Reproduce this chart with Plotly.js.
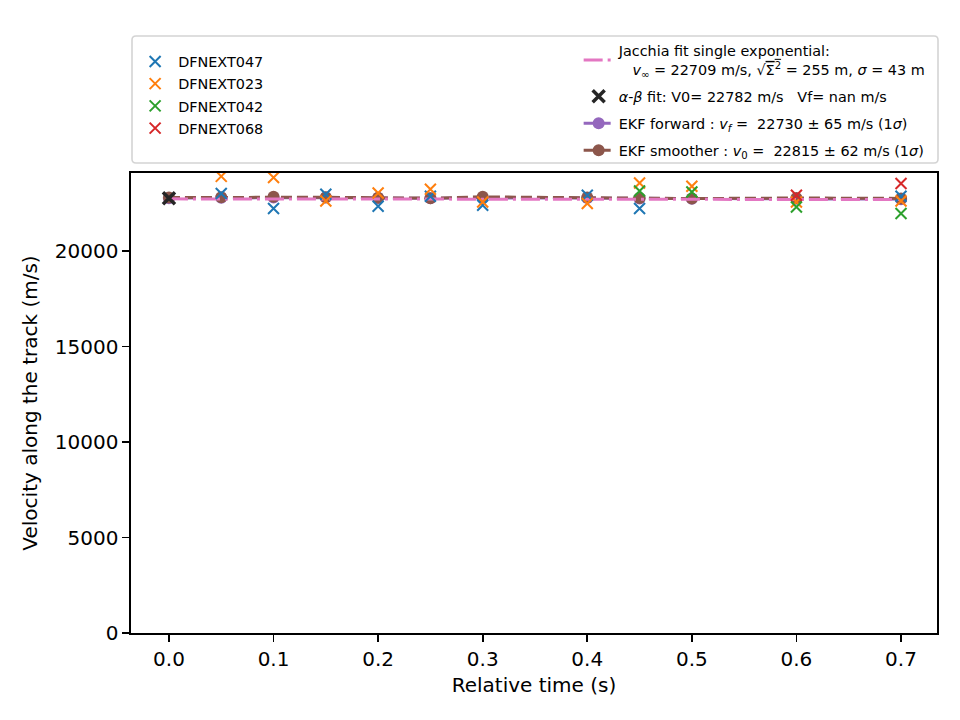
<!DOCTYPE html>
<html>
<head>
<meta charset="utf-8">
<script src="https://cdn.plot.ly/plotly-3.0.1.min.js"></script>
<style>html,body{margin:0;padding:0;background:#fff;}#chart{width:960px;height:720px;}</style>
</head>
<body>
<div id="chart"></div>
<script>
// ---- data ----
const times047 = [0.05, 0.10, 0.15, 0.20, 0.25, 0.30, 0.40, 0.45, 0.70];
const vel047   = [23023, 22237, 22986, 22358, 22881, 22410, 22934, 22237, 22881];
const times023 = [0.05, 0.10, 0.15, 0.20, 0.25, 0.30, 0.40, 0.45, 0.50, 0.60, 0.70];
const vel023   = [23925, 23861, 22636, 23054, 23248, 22583, 22499, 23578, 23405, 22583, 22636];
const times042 = [0.45, 0.50, 0.60, 0.70];
const vel042   = [23159, 23107, 22321, 21976];
const times068 = [0.60, 0.70];
const vel068   = [22934, 23546];

const timesEKF = [0.00, 0.05, 0.10, 0.15, 0.20, 0.25, 0.30, 0.40, 0.45, 0.50, 0.60, 0.70];
const velForward  = [22782, 22800, 22820, 22810, 22790, 22775, 22800, 22790, 22770, 22745, 22750, 22730];
const errForward  = [65, 65, 65, 65, 65, 65, 65, 65, 65, 65, 65, 65];
const velSmoother = [22815, 22830, 22850, 22830, 22800, 22780, 22850, 22820, 22790, 22760, 22790, 22770];
const errSmoother = [62, 62, 62, 62, 62, 62, 62, 62, 62, 62, 62, 62];

const timesJacchia = [0.00, 0.05, 0.10, 0.15, 0.20, 0.25, 0.30, 0.35, 0.40, 0.45, 0.50, 0.55, 0.60, 0.65, 0.70];
const velJacchia   = [22745, 22743, 22741, 22739, 22737, 22735, 22733, 22731, 22728, 22725, 22722, 22719, 22716, 22712, 22709];

const timesAB = [0.0];
const velAB   = [22782];

const xTicks = [0, 0.1, 0.2, 0.3, 0.4, 0.5, 0.6, 0.7];
const yTicks = [0, 5000, 10000, 15000, 20000];

const camNames = ['DFNEXT047', 'DFNEXT023', 'DFNEXT042', 'DFNEXT068'];
const jacchiaLabel = 'Jacchia fit single exponential:<br>\u00a0\u00a0\u00a0<i>v</i><sub>\u221e</sub> = 22709 m/s, \u221a<span style="text-decoration:overline">\u03a3<sup>2</sup></span> = 255 m, <i>\u03c3</i> = 43 m';
const abLabel = '<i>\u03b1</i>-<i>\u03b2</i> fit: V0= 22782 m/s\u00a0\u00a0\u00a0Vf= nan m/s';
const fwdLabel = 'EKF forward : <i>v<sub>f</sub></i> =\u00a0\u00a022730 \u00b1 65 m/s (1<i>\u03c3</i>)';
const smoLabel = 'EKF smoother : <i>v</i><sub>0</sub> =\u00a0\u00a022815 \u00b1 62 m/s (1<i>\u03c3</i>)';

// ---- styling ----
const C = {blue:'#1f77b4', orange:'#ff7f0e', green:'#2ca02c', red:'#d62728',
           purple:'#9467bd', brown:'#8c564b', pink:'#e377c2', black:'#262626'};

function camTrace(x, y, name, color, rank) {
  return {x:x, y:y, name:name, type:'scatter', mode:'markers', legend:'legend',
    legendgroup:name, legendrank:rank,
    marker:{symbol:'x-thin', size:11, color:color, line:{color:color, width:2}}};
}

const traces = [
  {x:timesEKF, y:velForward, name:fwdLabel, type:'scatter', mode:'lines+markers', legend:'legend2',
   legendgroup:'fwd', legendrank:3,
   line:{color:C.purple, width:3, dash:'11px,5px'},
   marker:{symbol:'circle', size:12, color:C.purple},
   error_y:{type:'data', array:errForward, visible:true, color:C.purple, thickness:1.5, width:0}},
  {x:timesEKF, y:velSmoother, name:smoLabel, type:'scatter', mode:'lines+markers', legend:'legend2',
   legendgroup:'smo', legendrank:4,
   line:{color:C.brown, width:3, dash:'11px,5px'},
   marker:{symbol:'circle', size:12, color:C.brown},
   error_y:{type:'data', array:errSmoother, visible:true, color:C.brown, thickness:1.5, width:0}},
  {x:timesJacchia, y:velJacchia, name:jacchiaLabel, type:'scatter', mode:'lines', legend:'legend2',
   legendgroup:'jac', legendrank:1,
   line:{color:C.pink, width:3, dash:'19px,5px,3px,5px'}},
  camTrace(times047, vel047, camNames[0], C.blue, 1),
  camTrace(times023, vel023, camNames[1], C.orange, 2),
  camTrace(times042, vel042, camNames[2], C.green, 3),
  camTrace(times068, vel068, camNames[3], C.red, 4),
  {x:timesAB, y:velAB, name:abLabel, type:'scatter', mode:'markers', legend:'legend2',
   legendgroup:'ab', legendrank:2,
   marker:{symbol:'x-thin', size:12, color:C.black, line:{color:C.black, width:3.5}}}
];

// legend frame (rounded rectangle) in paper coordinates
const plotW = 806, plotH = 460;
function roundRect(px0, py0, px1, py1, r) {
  const X = p => p / plotW, Y = p => 1 - p / plotH;
  return 'M' + X(px0 + r) + ',' + Y(py0) +
    ' L' + X(px1 - r) + ',' + Y(py0) +
    ' Q' + X(px1) + ',' + Y(py0) + ' ' + X(px1) + ',' + Y(py0 + r) +
    ' L' + X(px1) + ',' + Y(py1 - r) +
    ' Q' + X(px1) + ',' + Y(py1) + ' ' + X(px1 - r) + ',' + Y(py1) +
    ' L' + X(px0 + r) + ',' + Y(py1) +
    ' Q' + X(px0) + ',' + Y(py1) + ' ' + X(px0) + ',' + Y(py1 - r) +
    ' L' + X(px0) + ',' + Y(py0 + r) +
    ' Q' + X(px0) + ',' + Y(py0) + ' ' + X(px0 + r) + ',' + Y(py0) + ' Z';
}

const font = 'DejaVu Sans, Verdana, sans-serif';
const axisCommon = {
  showline:true, mirror:true, linecolor:'#000', linewidth:1.6,
  ticks:'outside', ticklen:7, tickwidth:1.6, tickcolor:'#000',
  showgrid:false, zeroline:false,
  tickfont:{family:font, size:20, color:'#000'}
};

const layout = {
  width:960, height:720,
  margin:{l:131, r:23, t:173, b:87, pad:0},
  paper_bgcolor:'#fff', plot_bgcolor:'#fff',
  font:{family:font, color:'#000'},
  showlegend:true,
  xaxis:Object.assign({}, axisCommon, {
    range:[-0.0363, 0.7344], tickvals:xTicks, tickformat:'.1f',
    title:{text:'Relative time (s)', font:{family:font, size:20, color:'#000'}, standoff:8}
  }),
  yaxis:Object.assign({}, axisCommon, {
    range:[0, 24100], tickvals:yTicks, tickformat:'d',
    title:{text:'Velocity along the track (m/s)', font:{family:font, size:20, color:'#000'}, standoff:12}
  }),
  legend:{
    x:0.0014, xanchor:'left', y:1.277, yanchor:'top',
    bgcolor:'rgba(0,0,0,0)', borderwidth:0,
    font:{family:font, size:14.4, color:'#000'},
    tracegroupgap:0.5, itemwidth:36
  },
  legend2:{
    x:0.5554, xanchor:'left', y:1.3007, yanchor:'top',
    bgcolor:'rgba(0,0,0,0)', borderwidth:0,
    font:{family:font, size:14.4, color:'#000'},
    tracegroupgap:5.3, itemwidth:30, valign:'middle'
  },
  shapes:[{
    type:'path', xref:'paper', yref:'paper',
    path:roundRect(1, -137, 807, -10, 4),
    line:{color:'#d4d4d4', width:1.6}, fillcolor:'rgba(255,255,255,0.8)', layer:'above'
  }]
};

Plotly.newPlot('chart', traces, layout, {staticPlot:true, displayModeBar:false});
</script>
</body>
</html>
